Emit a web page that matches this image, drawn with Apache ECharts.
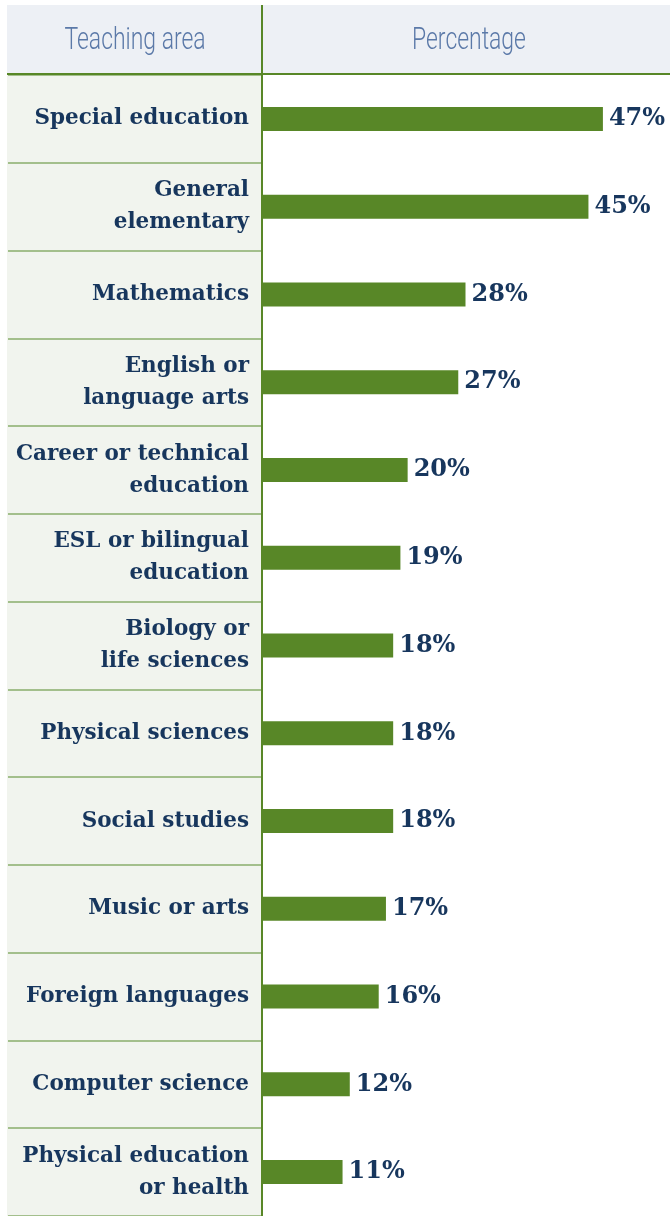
<!DOCTYPE html>
<html>
<head>
<meta charset="utf-8">
<script src="https://cdn.jsdelivr.net/npm/echarts@6/dist/echarts.min.js"></script>
<style>
html,body{margin:0;padding:0;background:#fff;}
#chart{width:670px;height:1216px;}
</style>
</head>
<body>
<div id="chart"></div>
<script>
const headers = ['Teaching area', 'Percentage'];
const categories = [
  'Special education',
  'General\nelementary',
  'Mathematics',
  'English or\nlanguage arts',
  'Career or technical\neducation',
  'ESL or bilingual\neducation',
  'Biology or\nlife sciences',
  'Physical sciences',
  'Social studies',
  'Music or arts',
  'Foreign languages',
  'Computer science',
  'Physical education\nor health'
];
const values = [47, 45, 28, 27, 20, 19, 18, 18, 18, 17, 16, 12, 11];

const navy = '#17365d';
const green = '#588727';
const serif = '"DejaVu Serif", serif';

const chart = echarts.init(document.getElementById('chart'), null, {renderer: 'canvas'});
chart.setOption({
  animation: false,
  backgroundColor: '#ffffff',
  grid: {left: 263, right: 2, top: 75, bottom: 0, containLabel: false},
  xAxis: {
    type: 'value', min: 0, max: 56,
    show: false
  },
  yAxis: {
    type: 'category',
    data: categories,
    inverse: true,
    axisLine: {show: false},
    axisTick: {show: true, length: 255, lineStyle: {color: '#a3bf8c', width: 2}},
    axisLabel: {
      margin: 14,
      color: navy,
      fontFamily: serif,
      fontWeight: 'bold',
      fontSize: 21.5,
      lineHeight: 32,
      align: 'right'
    },
    splitLine: {show: false}
  },
  graphic: [
    {type: 'rect', z: -10, silent: true, shape: {x: 7, y: 5, width: 663, height: 69}, style: {fill: '#edf0f5'}},
    {type: 'rect', z: -10, silent: true, shape: {x: 7, y: 75, width: 255, height: 1141}, style: {fill: '#f1f4ee'}},
    {type: 'rect', z: 10, silent: true, shape: {x: 7, y: 73, width: 663, height: 2}, style: {fill: green}},
    {type: 'rect', z: 10, silent: true, shape: {x: 261, y: 5, width: 2, height: 1211}, style: {fill: green}},
    {type: 'text', z: 10, silent: true, x: 135, y: 41, scaleX: 0.74,
      style: {text: headers[0], fill: '#5b79a8', font: '300 31px Roboto, "Open Sans", sans-serif', align: 'center', verticalAlign: 'middle'}},
    {type: 'text', z: 10, silent: true, x: 469, y: 41, scaleX: 0.74,
      style: {text: headers[1], fill: '#5b79a8', font: '300 31px Roboto, "Open Sans", sans-serif', align: 'center', verticalAlign: 'middle'}}
  ],
  series: [{
    type: 'bar',
    data: values,
    barWidth: 24,
    itemStyle: {color: green},
    label: {
      show: true,
      position: 'right',
      distance: 6,
      formatter: '{c}%',
      color: navy,
      fontFamily: serif,
      fontWeight: 'bold',
      fontSize: 24
    }
  }]
});
</script>
</body>
</html>
